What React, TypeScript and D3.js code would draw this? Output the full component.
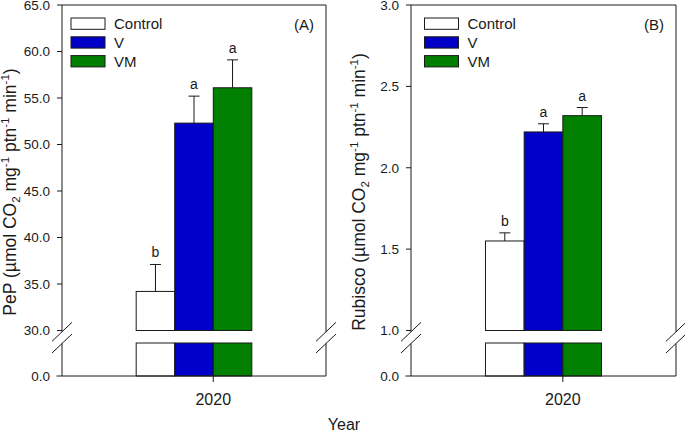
import React from "react";
import * as d3 from "d3";

const groups = ["Control", "V", "VM"];
const groupColors = ["#ffffff", "#0000c8", "#007f00"];
const year = 2020;

const pepMeans = [34.2, 52.3, 56.1];
const pepErrors = [2.9, 2.9, 3.0];
const pepLetters = ["b", "a", "a"];
const pepUpperDomain = [30, 65];
const pepLowerMax = 30;
const pepTickCount = 7;

const rubMeans = [1.55, 2.22, 2.32];
const rubErrors = [0.05, 0.05, 0.05];
const rubLetters = ["b", "a", "a"];
const rubUpperDomain = [1, 3];
const rubLowerMax = 1;
const rubTickCount = 4;

const FONT = "'Liberation Sans', Arial, Helvetica, sans-serif";
const INK = "#1a1a1a";

const TOP = 5;
const UPPER_BOTTOM = 330.5;
const LOWER_TOP = 343;
const BOTTOM = 376;

type PanelProps = {
  L: number;
  R: number;
  means: number[];
  errors: number[];
  letters: string[];
  upperDomain: number[];
  lowerMax: number;
  tickCount: number;
  titleMain: string;
  panelLabel: string;
  legendDx: number;
};

function Panel(p: PanelProps) {
  const x = d3.scaleLinear().domain([year - 1, year + 1]).range([p.L, p.R]);
  const half = 0.438;
  const band = d3
    .scaleBand<string>()
    .domain(groups)
    .range([x(year - half), x(year + half)])
    .paddingInner(0)
    .paddingOuter(0);
  const bw = band.bandwidth();
  const yUp = d3.scaleLinear().domain(p.upperDomain).range([UPPER_BOTTOM, TOP]);
  const yLow = d3.scaleLinear().domain([0, p.lowerMax]).range([BOTTOM, LOWER_TOP]).clamp(true);
  const ticks = yUp.ticks(p.tickCount);
  const fmt = d3.format(".1f");
  const lo = p.upperDomain[0];

  const breakA = UPPER_BOTTOM + 1.3;
  const breakB = LOWER_TOP + 0.5;
  const slash = (cx: number, cy: number, key: string) => (
    <line key={key} x1={cx - 10} y1={cy + 9.5} x2={cx + 10} y2={cy - 9.5} stroke={INK} strokeWidth={1} />
  );

  const tickX = band("VM") as number;
  const titleCenterY = 192;
  const titleX = p.L - 46.5;

  return (
    <g>
      {groups.map((g, i) => {
        const bx = band(g) as number;
        const v = p.means[i];
        return (
          <g key={g}>
            <rect x={bx} y={yUp(v)} width={bw} height={yUp(lo) - yUp(v)} fill={groupColors[i]} stroke={INK} strokeWidth={1} />
            <rect x={bx} y={yLow(v)} width={bw} height={yLow(0) - yLow(v)} fill={groupColors[i]} stroke={INK} strokeWidth={1} />
          </g>
        );
      })}
      {groups.map((g, i) => {
        const cx = (band(g) as number) + bw / 2;
        const v = p.means[i];
        const e = p.errors[i];
        return (
          <g key={g + "e"}>
            <line x1={cx} x2={cx} y1={yUp(v)} y2={yUp(v + e)} stroke={INK} strokeWidth={1} />
            <line x1={cx - 5.5} x2={cx + 5.5} y1={yUp(v + e)} y2={yUp(v + e)} stroke={INK} strokeWidth={1} />
            <text x={cx} y={yUp(v + e) - 7} textAnchor="middle" fontSize={14} fontFamily={FONT} fill={INK}>
              {p.letters[i]}
            </text>
          </g>
        );
      })}
      <line x1={p.L} x2={p.R} y1={TOP} y2={TOP} stroke={INK} strokeWidth={1} />
      <line x1={p.L - 5.5} x2={p.R} y1={BOTTOM} y2={BOTTOM} stroke={INK} strokeWidth={1} />
      {[p.L, p.R].map((ax, k) => (
        <g key={"ax" + k}>
          <line x1={ax} x2={ax} y1={TOP} y2={breakA} stroke={INK} strokeWidth={1} />
          <line x1={ax} x2={ax} y1={breakB} y2={BOTTOM} stroke={INK} strokeWidth={1} />
          {slash(ax, breakA, "s1")}
          {slash(ax, breakB, "s2")}
        </g>
      ))}
      {ticks.map((t) => (
        <g key={"t" + t}>
          <line x1={p.L - 5} x2={p.L} y1={yUp(t)} y2={yUp(t)} stroke={INK} strokeWidth={1} />
          <text x={p.L - 12} y={yUp(t)} dy="0.36em" textAnchor="end" fontSize={13.5} fontFamily={FONT} fill={INK}>
            {fmt(t)}
          </text>
        </g>
      ))}
      <text x={p.L - 12} y={yLow(0)} dy="0.36em" textAnchor="end" fontSize={13.5} fontFamily={FONT} fill={INK}>
        {fmt(0)}
      </text>
      <line x1={tickX} x2={tickX} y1={BOTTOM} y2={BOTTOM + 6} stroke={INK} strokeWidth={1} />
      <text x={tickX} y={BOTTOM + 29} textAnchor="middle" fontSize={16} fontFamily={FONT} fill={INK}>
        {year}
      </text>
      <text
        transform={`translate(${titleX},${titleCenterY}) rotate(-90)`}
        textAnchor="middle"
        fontSize={17.5}
        fontFamily={FONT}
        fill={INK}
      >
        {p.titleMain + " (µmol CO"}
        <tspan fontSize={11.5} dy={4}>2</tspan>
        <tspan dy={-4}> mg</tspan>
        <tspan fontSize={11.5} dy={-7}>-1</tspan>
        <tspan dy={7}> ptn</tspan>
        <tspan fontSize={11.5} dy={-7}>-1</tspan>
        <tspan dy={7}> min</tspan>
        <tspan fontSize={11.5} dy={-7}>-1</tspan>
        <tspan dy={7}>)</tspan>
      </text>
      {groups.map((g, i) => {
        const top = 18 + i * 18.8;
        return (
          <g key={"lg" + g}>
            <rect x={p.L + p.legendDx} y={top} width={34} height={11.3} fill={groupColors[i]} stroke={INK} strokeWidth={1} />
            <text x={p.L + p.legendDx + 43} y={top + 11} fontSize={15} fontFamily={FONT} fill={INK}>
              {g}
            </text>
          </g>
        );
      })}
      <text x={p.R - 12} y={29.5} textAnchor="end" fontSize={15} fontFamily={FONT} fill={INK}>
        {p.panelLabel}
      </text>
    </g>
  );
}

export default function App() {
  return (
    <svg
      width={685}
      height={431}
      style={{ position: "absolute", left: 0, top: 0, background: "#ffffff" }}
    >
      <rect x={0} y={0} width={685} height={431} fill="#ffffff" />
      <Panel
        L={62}
        R={326}
        means={pepMeans}
        errors={pepErrors}
        letters={pepLetters}
        upperDomain={pepUpperDomain}
        lowerMax={pepLowerMax}
        tickCount={pepTickCount}
        titleMain="PeP"
        panelLabel="(A)"
        legendDx={9}
      />
      <Panel
        L={411}
        R={676}
        means={rubMeans}
        errors={rubErrors}
        letters={rubLetters}
        upperDomain={rubUpperDomain}
        lowerMax={rubLowerMax}
        tickCount={rubTickCount}
        titleMain="Rubisco"
        panelLabel="(B)"
        legendDx={13.5}
      />
      <text x={344} y={430} textAnchor="middle" fontSize={16} fontFamily={FONT} fill={INK}>
        Year
      </text>
    </svg>
  );
}
